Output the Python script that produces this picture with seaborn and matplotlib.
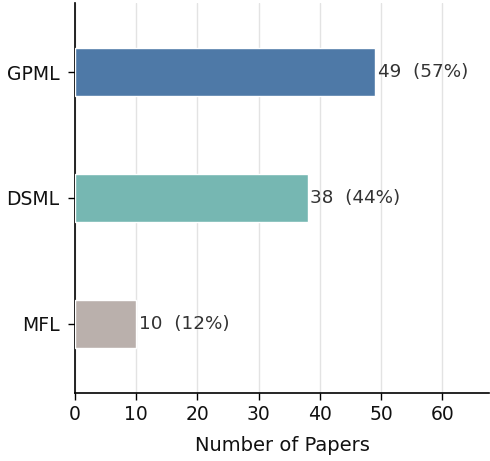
import pandas as pd
import matplotlib
matplotlib.use("Agg")
import matplotlib.pyplot as plt
import seaborn as sns

categories = ["GPML", "DSML", "MFL"]
papers = [49, 38, 10]
percents = [57, 44, 12]
colors = ["#4e79a7", "#76b7b2", "#bab0ac"]

df = pd.DataFrame({"category": categories, "papers": papers})

sns.set_style("white")
plt.rcParams["font.family"] = ["DejaVu Sans"]

fig, ax = plt.subplots(figsize=(4.9, 4.61), dpi=100)
fig.subplots_adjust(left=0.153, right=0.998, top=0.9935, bottom=0.1475)

sns.barplot(data=df, y="category", x="papers", hue="category", palette=colors,
            saturation=1, width=0.38, edgecolor="white", linewidth=1,
            legend=False, ax=ax, zorder=3)

for i, (v, p) in enumerate(zip(papers, percents)):
    ax.text(v + 0.4, i, f"{v}  ({p}%)", va="center", ha="left",
            fontsize=13.2, color="#333333", zorder=4)

ax.set_xlim(0, 67.6)
ax.set_ylim(2.548, -0.548)
ax.set_xticks(range(0, 70, 10))
ax.grid(axis="x", color="#e3e3e3", linewidth=1, zorder=0)
ax.set_axisbelow(True)
sns.despine(ax=ax)
for s in ["left", "bottom"]:
    ax.spines[s].set_color("black")
    ax.spines[s].set_linewidth(1.2)
ax.tick_params(axis="both", which="both", length=5, width=1, color="black",
               labelsize=13.5, left=True, bottom=True, labelcolor="#111111")
ax.tick_params(axis="y", pad=6)
ax.set_ylabel("")
ax.set_xlabel("Number of Papers", fontsize=14, labelpad=9, color="#111111")

fig.savefig("out.png", dpi=100)
